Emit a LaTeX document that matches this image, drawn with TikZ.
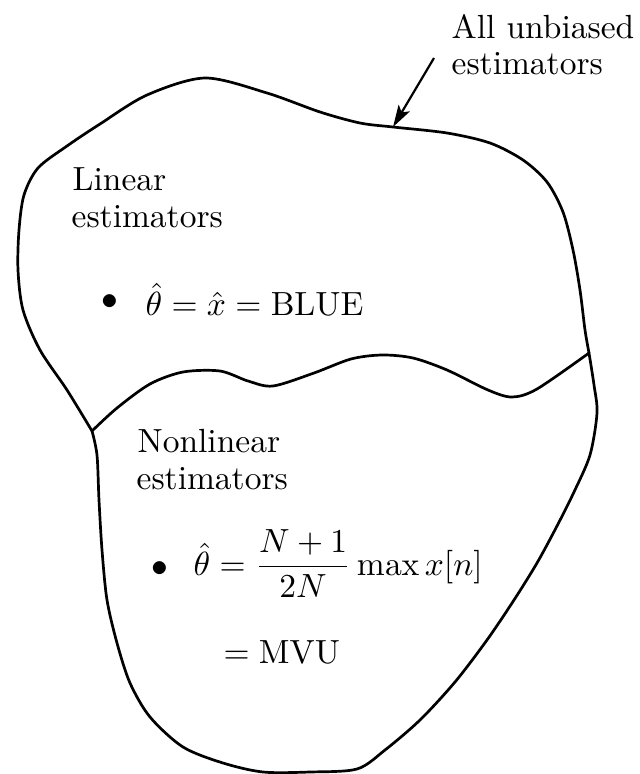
\documentclass[tikz,border=0pt]{standalone}
\usepackage{amsmath}
\usetikzlibrary{arrows.meta}
\begin{document}
\begin{tikzpicture}[x=1pt,y=-1pt,
  outline/.style={line width=2.7pt, line join=round, line cap=round},
  txt/.style={inner sep=0pt, anchor=base west, scale=3.35},
  dotmark/.style={inner sep=0pt, anchor=center, scale=3.35}]
\useasboundingbox (0,0) rectangle (640,774);
\coordinate (J1) at (92,431);
\coordinate (J2) at (589,353);
% upper outline
\draw[outline] plot[smooth, tension=0.5] coordinates {(J1) (67,390) (40,350) (23,310) (18,270) (19,230) (24,195) (38,168) (67,146) (100,124) (147,95) (205,78) (267,93) (320,112) (360,123) (393,127) (447,133) (490,143) (523,160) (547,182) (563,212) (573,250) (580,290) (585,330) (J2)};
% lower outline
\draw[outline] plot[smooth, tension=0.5] coordinates {(J2) (594,385) (597,413) (590,455) (574,492) (557,526) (537,563) (514,600) (487,640) (455,682) (420,720) (385,750) (357,769) (310,772) (263,772) (223,763) (183,747) (150,717) (130,683) (117,643) (107,600) (102,550) (99,500) (97,455) (J1)};
% dividing wave
\draw[outline] plot[smooth, tension=0.5] coordinates {(J1) (117,408) (150,384) (183,372) (220,371) (248,381) (273,386) (314,373) (351,359) (382,355) (413,358) (447,370) (488,390) (512,397) (537,389) (J2)};
% label and arrow
\node[txt] (all1) at (451,38) {All unbiased};
\node[txt] (all2) at (451,74) {estimators};
\coordinate (tail) at (434,58);
\coordinate (tip) at (393,127);
\draw[line width=2.2pt, -{Stealth[length=22pt,width=13pt,inset=5pt]}] (tail) -- (tip);
% linear region
\node[txt] (lin1) at (72,190) {Linear};
\node[txt] (lin2) at (71,227) {estimators};
\node[dotmark] (b1) at (110,302) {$\bullet$};
\node[txt] (f1) at (145,315) {$\hat{\theta} = \hat{x} = \mathrm{BLUE}$};
% nonlinear region
\node[txt] (non1) at (137,452) {Nonlinear};
\node[txt] (non2) at (136,489) {estimators};
\node[dotmark] (b2) at (160,569) {$\bullet$};
\node[txt] (f2) at (193,575) {$\hat{\theta} = \dfrac{N+1}{2N}\max x[n]$};
\node[txt] (f3) at (223,663) {$= \mathrm{MVU}$};
\end{tikzpicture}
\end{document}
